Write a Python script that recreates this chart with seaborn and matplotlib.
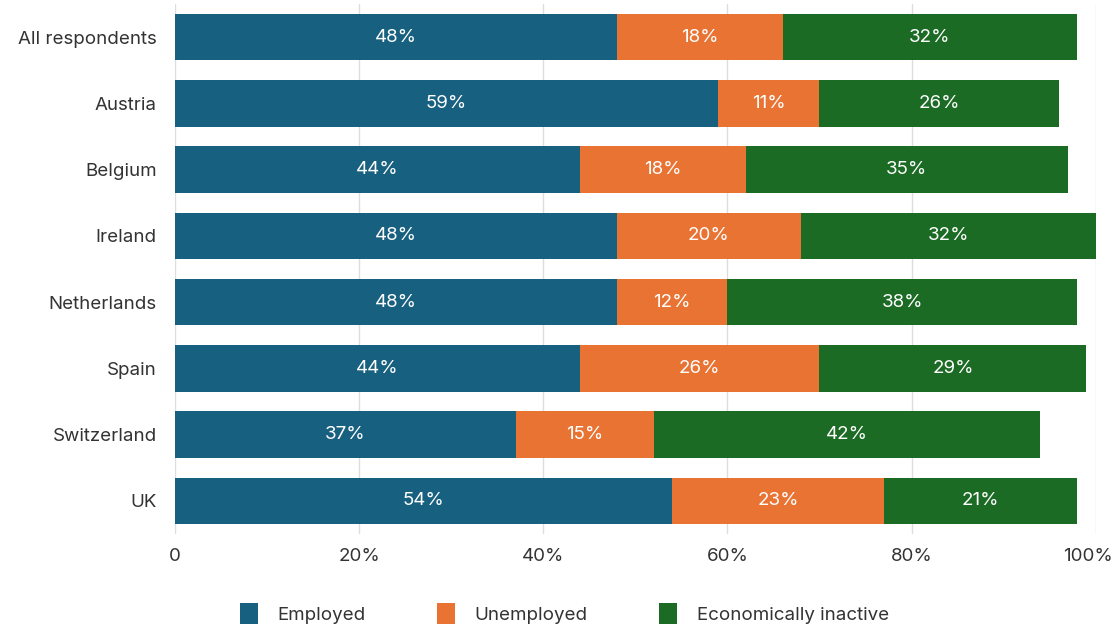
import pandas as pd
import numpy as np
import matplotlib.pyplot as plt
import matplotlib.transforms as mtransforms
import seaborn as sns
from matplotlib.patches import Patch

# values (percent of respondents)
countries = ['All respondents', 'Austria', 'Belgium', 'Ireland',
             'Netherlands', 'Spain', 'Switzerland', 'UK']
employed = [48, 59, 44, 48, 48, 44, 37, 54]
unemployed = [18, 11, 18, 20, 12, 26, 15, 23]
inactive = [32, 26, 35, 32, 38, 29, 42, 21]

series_names = ['Employed', 'Unemployed', 'Economically inactive']
colors = ['#17607f', '#e97333', '#1b6b25']

df = pd.DataFrame({
    'country': countries,
    'Employed': employed,
    'Unemployed': unemployed,
    'Economically inactive': inactive,
})
# cumulative ends, so stacking works by drawing the longest bar first
df['cum_emp'] = df['Employed']
df['cum_unemp'] = df['cum_emp'] + df['Unemployed']
df['cum_all'] = df['cum_unemp'] + df['Economically inactive']

sns.set_theme(style='white')
plt.rcParams['font.family'] = ['Inter', 'DejaVu Sans']

fig, ax = plt.subplots(figsize=(11.18, 6.26), dpi=100)
fig.subplots_adjust(left=0.1565, right=0.980, top=0.9936, bottom=0.147)

for col, color in zip(['cum_all', 'cum_unemp', 'cum_emp'], colors[::-1]):
    sns.barplot(data=df, y='country', x=col, orient='h', color=color,
                width=0.7, linewidth=0, saturation=1, ax=ax, zorder=2)

# value labels at the middle of each segment
starts = [np.zeros(len(df)), df['cum_emp'].values, df['cum_unemp'].values]
for name, left in zip(series_names, starts):
    vals = df[name].values
    for i, v in enumerate(vals):
        ax.text(left[i] + v / 2, i, f'{v}%', ha='center', va='center',
                color='white', fontsize=13.5)

ax.set_xlim(0, 100)
ax.set_ylim(7.5, -0.5)
ax.set_xticks([0, 20, 40, 60, 80, 100])
ax.set_xticklabels(['0', '20%', '40%', '60%', '80%', '100%'])
ax.grid(axis='x', color='#dddddd', linewidth=1, zorder=0)
ax.set_axisbelow(True)
ax.set_xlabel('')
ax.set_ylabel('')
for s in ax.spines.values():
    s.set_visible(False)
ax.tick_params(axis='both', length=0, labelsize=13.5, labelcolor='#333333')
ax.tick_params(axis='x', pad=10)
ax.tick_params(axis='y', pad=13)

# nudge the last tick label in so it stays inside the figure
last = ax.get_xticklabels()[-1]
last.set_transform(last.get_transform() +
                   mtransforms.ScaledTranslation(-8 / 100, 0, fig.dpi_scale_trans))

handles = [Patch(facecolor=c, edgecolor='none') for c in colors]
fig.legend(handles, series_names, loc='lower center', ncol=3,
           bbox_to_anchor=(0.505, -0.024), frameon=False, fontsize=13.5,
           handlelength=0.95, handleheight=1.35, columnspacing=3.8,
           handletextpad=1.05, labelcolor='#333333')

plt.savefig('out.png', dpi=100)
